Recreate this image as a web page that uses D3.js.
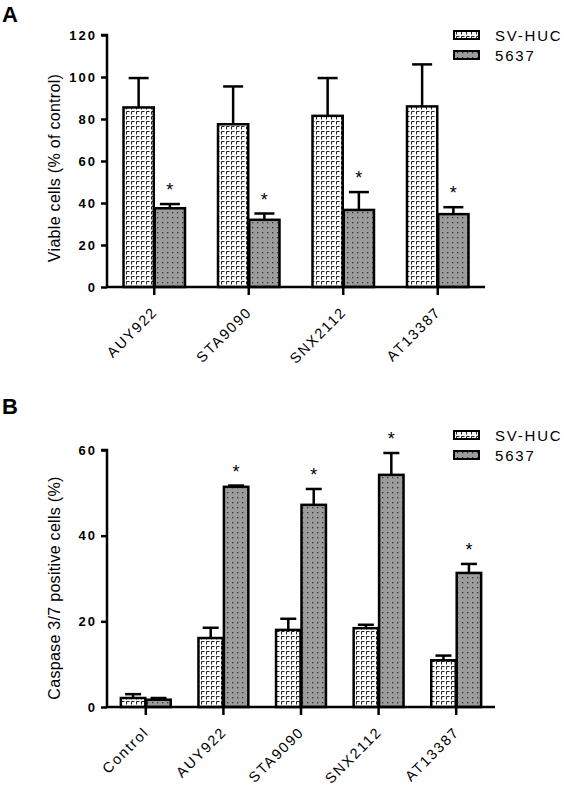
<!DOCTYPE html>
<html><head><meta charset="utf-8">
<script src="https://cdn.jsdelivr.net/npm/d3@7"></script>
<style>body{margin:0;background:#fff}svg{display:block}text{font-family:Arial,"Liberation Sans",sans-serif}</style>
</head><body>
<svg id="c" width="566" height="790"></svg>
<script>
// ---- data ----
const seriesNames = ["SV-HUC", "5637"];
const catsA = ["AUY922", "STA9090", "SNX2112", "AT13387"];
const svA = [85.5, 77.5, 81.5, 86];
const svAErr = [14, 18, 18, 20];
const c5637A = [37.5, 32, 36.7, 34.7];
const c5637AErr = [2, 3, 8.5, 3.3];
const starA = [true, true, true, true];
const ticksA = [0, 20, 40, 60, 80, 100, 120];

const catsB = ["Control", "AUY922", "STA9090", "SNX2112", "AT13387"];
const svB = [2.1, 16.1, 18.0, 18.4, 10.9];
const svBErr = [0.9, 2.4, 2.6, 0.8, 1.1];
const c5637B = [1.7, 51.4, 47.2, 54.2, 31.3];
const c5637BErr = [0.4, 0.3, 3.7, 5.1, 2.1];
const starB = [false, true, true, true, true];
const ticksB = [0, 20, 40, 60];

const svg = d3.select("#c");
const defs = svg.append("defs");
// hatch pattern for SV-HUC
const p1 = defs.append("pattern").attr("id","pSV").attr("patternUnits","userSpaceOnUse").attr("width",5).attr("height",5);
p1.append("rect").attr("width",5).attr("height",5).attr("fill","#fff");
p1.append("path").attr("d","M1.5,4.5 V1.5 H4.5").attr("stroke","#222").attr("stroke-width",1).attr("fill","none");
// dotted gray for 5637
const p2 = defs.append("pattern").attr("id","p56").attr("patternUnits","userSpaceOnUse").attr("width",5).attr("height",5);
p2.append("rect").attr("width",5).attr("height",5).attr("fill","#9c9c9c");
p2.append("rect").attr("x",2).attr("y",2).attr("width",1.3).attr("height",1.3).attr("fill","#333");
const fills = ["url(#pSV)", "url(#p56)"];

function panel(o){
  const g = svg.append("g");
  const y = d3.scaleLinear().domain([0, o.max]).range([o.y0, o.y1]);
  const x = d3.scaleBand().domain(o.cats).range([o.x0, o.x1]).padding(0);
  const bw = x.bandwidth()*o.barFrac/2;
  // panel letter
  g.append("text").attr("x",2).attr("y",o.letterY).attr("font-size",22).attr("font-weight","bold").text(o.letter);
  // y axis
  const ya = d3.axisLeft(y).tickValues(o.ticks).tickSize(6).tickPadding(4).tickFormat(d3.format("d"));
  const yg = g.append("g").attr("transform",`translate(${o.x0},0)`).call(ya);
  yg.attr("font-size",null).attr("font-family",null);
  yg.select(".domain").attr("stroke","#000").attr("stroke-width",2.5).attr("d",`M-6,${o.y1}H0V${o.y0}`);
  yg.selectAll(".tick line").attr("stroke","#000").attr("stroke-width",2.5);
  yg.selectAll(".tick text").style("font-size","13px").attr("font-weight","bold").attr("fill","#000").style("letter-spacing","2px");
  // x axis
  const xa = d3.axisBottom(x).tickSize(8).tickPadding(4);
  const xg = g.append("g").attr("transform",`translate(0,${o.y0})`).call(xa);
  xg.attr("font-size",null).attr("font-family",null);
  xg.select(".domain").attr("stroke","#000").attr("stroke-width",2.5).attr("d",`M${o.x0},0H${o.x1}`);
  xg.selectAll(".tick line").attr("stroke","#000").attr("stroke-width",2.5);
  xg.selectAll(".tick text").style("font-size","14.5px").attr("fill","#000").style("letter-spacing","1.7px")
    .attr("text-anchor","end").attr("dy",null).attr("y",0).attr("x",0)
    .attr("transform","translate(4,26) rotate(-45)");
  // bars
  const series = [o.sv, o.c56];
  const errs = [o.svE, o.c56E];
  series.forEach((vals, s) => {
    const xs = (c) => x(c) + x.bandwidth()/2 + (s===0 ? -bw - 0.5 : 0.5);
    const bars = g.append("g");
    bars.selectAll("line.err").data(o.cats).join("line")
      .attr("x1",(c)=>xs(c)+bw/2).attr("x2",(c)=>xs(c)+bw/2)
      .attr("y1",(c,i)=>y(vals[i])).attr("y2",(c,i)=>y(vals[i]+errs[s][i]))
      .attr("stroke","#000").attr("stroke-width",2.5);
    bars.selectAll("line.cap").data(o.cats).join("line")
      .attr("x1",(c)=>xs(c)+bw/2-o.cap/2).attr("x2",(c)=>xs(c)+bw/2+o.cap/2)
      .attr("y1",(c,i)=>y(vals[i]+errs[s][i])).attr("y2",(c,i)=>y(vals[i]+errs[s][i]))
      .attr("stroke","#000").attr("stroke-width",2.5);
    bars.selectAll("rect").data(o.cats).join("rect")
      .attr("x",(c)=>xs(c)).attr("width",bw)
      .attr("y",(c,i)=>y(vals[i])).attr("height",(c,i)=>o.y0 - y(vals[i]))
      .attr("fill",fills[s]).attr("stroke","#000").attr("stroke-width",2.5);
    if(s===1){
      g.selectAll(null).data(o.cats.filter((c,i)=>o.star[i])).join("text")
        .attr("x",(c)=>xs(c)+bw/2).attr("y",(c)=>{const i=o.cats.indexOf(c);return y(vals[i]+errs[s][i]) - 8;})
        .attr("text-anchor","middle").attr("font-size",18).attr("fill","#000").text("*");
    }
  });
  yg.raise(); xg.raise();
  // y label
  g.append("text").attr("transform",`translate(${o.labX},${o.labY}) rotate(-90)`).attr("text-anchor","middle")
    .attr("font-size",16).style("letter-spacing","0.3px").attr("fill","#000").text(o.label);
  // legend
  seriesNames.forEach((n,i)=>{
    g.append("rect").attr("x",454).attr("y",o.legY + i*20).attr("width",25).attr("height",8)
      .attr("fill",fills[i]).attr("stroke","#000").attr("stroke-width",2);
    g.append("text").attr("x",495).attr("y",o.legY + i*20 + 10).attr("font-size",15).style("letter-spacing","1.8px").attr("fill","#000").text(n);
  });
}

panel({letter:"A", letterY:22, cats:catsA, sv:svA, svE:svAErr, c56:c5637A, c56E:c5637AErr, star:starA,
  ticks:ticksA, max:120, y0:287, y1:35, x0:107, x1:485, barFrac:0.64, cap:20,
  label:"Viable cells (% of control)", labX:60, labY:168, legY:31});
panel({letter:"B", letterY:414, cats:catsB, sv:svB, svE:svBErr, c56:c5637B, c56E:c5637BErr, star:starB,
  ticks:ticksB, max:60, y0:707, y1:450, x0:107, x1:495, barFrac:0.63, cap:16,
  label:"Caspase 3/7 positive cells (%)", labX:60, labY:588, legY:431});
</script>
</body></html>
